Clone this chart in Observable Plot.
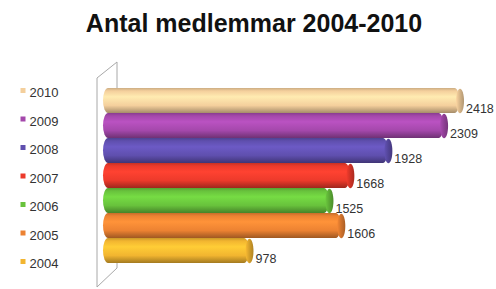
<!DOCTYPE html>
<html><head><meta charset="utf-8">
<script src="https://cdn.jsdelivr.net/npm/d3@7"></script>
<script src="https://cdn.jsdelivr.net/npm/@observablehq/plot@0.6"></script>
<style>
html,body{margin:0;padding:0;background:#fff;}
#chart{position:relative;width:496px;height:289px;overflow:hidden;}
</style></head><body><div id="chart"></div>
<script>
const title = "Antal medlemmar 2004-2010";
const years = ["2010","2009","2008","2007","2006","2005","2004"];
const values = [2418, 2309, 1928, 1668, 1525, 1606, 978];
const colors = ["#f4cf9c","#a448ab","#5f4fae","#ec3a2b","#68c23c","#ec8232","#f2b530"];

const data = years.map((y, i) => ({year: y, value: values[i], grad: `url(#g${i})`, cap: `url(#c${i})`}));

const ellipseSym = {draw(ctx) {
  const rx = 4, ry = 12.3, k = 0.5523;
  ctx.moveTo(rx, 0);
  ctx.bezierCurveTo(rx, ry * k, rx * k, ry, 0, ry);
  ctx.bezierCurveTo(-rx * k, ry, -rx, ry * k, -rx, 0);
  ctx.bezierCurveTo(-rx, -ry * k, -rx * k, -ry, 0, -ry);
  ctx.bezierCurveTo(rx * k, -ry, rx, -ry * k, rx, 0);
  ctx.closePath();
}};

const font = "'Liberation Sans', Arial, sans-serif";

const svg = Plot.plot({
  width: 496, height: 289,
  marginLeft: 106, marginRight: 24.5, marginTop: 88, marginBottom: 26,
  x: {domain: [0, 2500], axis: null},
  y: {domain: years, axis: null, padding: 0},
  color: {type: "identity"},
  style: {fontFamily: font, background: "transparent", overflow: "visible"},
  marks: [
    Plot.barX(data, {x: "value", y: "year", fill: "grad", rx: 5, ry: 12.5, insetLeft: -3}),
    Plot.dot(data, {x: "value", y: "year", fill: "cap", symbol: ellipseSym}),
    Plot.text(data, {x: "value", y: "year", text: d => String(d.value), dx: 6, dy: 8, textAnchor: "start", fontSize: 12.5, fill: "#333"})
  ]
});
document.getElementById("chart").appendChild(svg);

const s = d3.select(svg);
const defs = s.insert("defs", ":first-child");
colors.forEach((c, i) => {
  const b = d3.color(c);
  const g = defs.append("linearGradient").attr("id", "g" + i).attr("x1", 0).attr("y1", 0).attr("x2", 0).attr("y2", 1);
  [[0, b.darker(0.5)], [0.12, b], [0.35, b.brighter(0.35)], [0.7, b], [1, b.darker(1.1)]].forEach(([o, col]) =>
    g.append("stop").attr("offset", o).attr("stop-color", col.formatHex()));
  const cg = defs.append("linearGradient").attr("id", "c" + i).attr("x1", 0).attr("y1", 0).attr("x2", 1).attr("y2", 0);
  [[0, b.brighter(0.1)], [0.5, b.darker(0.4)], [1, b.darker(0.9)]].forEach(([o, col]) =>
    cg.append("stop").attr("offset", o).attr("stop-color", col.formatHex()));
});

// side wall decoration, positioned from the scales
const xs = svg.scale("x"), ys = svg.scale("y");
const x0 = xs.apply(0);
const yTop = ys.apply(years[0]);
const yBot = ys.apply(years[years.length - 1]) + ys.bandwidth;
s.insert("path", "defs + *")
  .attr("d", `M${x0 - 9},${yTop - 10}L${x0 + 11},${yTop - 26}L${x0 + 11},${yBot + 5}L${x0 - 9},${yBot + 24}Z`)
  .attr("fill", "none").attr("stroke", "#a8a8a8").attr("stroke-width", 1);

// title
s.append("text").attr("x", 254).attr("y", 32).attr("text-anchor", "middle")
  .attr("font-family", font).attr("font-weight", "bold").attr("font-size", 25).attr("fill", "#111").text(title);

// legend
const lg = s.append("g").attr("font-family", font).attr("font-size", 13).attr("fill", "#333").attr("text-anchor", "start");
years.forEach((y, i) => {
  const by = 97 + i * 28.5;
  lg.append("rect").attr("x", 20.5).attr("y", by - 9).attr("width", 5).attr("height", 5).attr("fill", colors[i]);
  lg.append("text").attr("x", 29.5).attr("y", by).attr("text-anchor", "start").text(y);
});
</script></body></html>
